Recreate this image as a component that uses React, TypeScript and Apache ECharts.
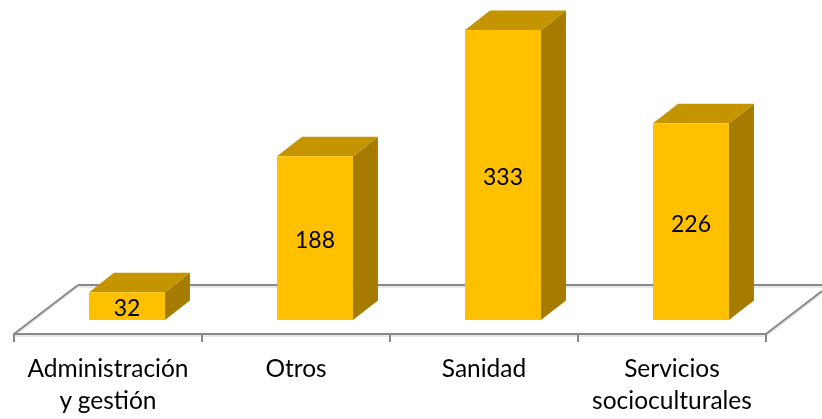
import React, { useEffect, useRef } from "react";
import * as echarts from "echarts";

const categories = ["Administración\ny gestión", "Otros", "Sanidad", "Servicios\nsocioculturales"];
const values = [32, 188, 333, 226];

const FRONT = "#FFC000";
const TOP = "#C49500";
const SIDE = "#A67C00";
const AXIS = "#888888";

export default function App() {
  const ref = useRef<HTMLDivElement>(null);
  useEffect(() => {
    const chart = echarts.init(ref.current!, undefined, { renderer: "svg" });
    const floorLine = (x1: number, y1: number, x2: number, y2: number) => ([
      { type: "line", z: 0, shape: { x1, y1: y1 + 2, x2, y2: y2 + 2 }, style: { stroke: "#e2e2e2", lineWidth: 1.5 } },
      { type: "line", z: 1, shape: { x1, y1, x2, y2 }, style: { stroke: AXIS, lineWidth: 2 } },
    ]);
    chart.setOption({
      animation: false,
      grid: { left: 14, width: 752, top: 15.2, bottom: 99 },
      graphic: [
        ...floorLine(14, 334, 78, 285),
        ...floorLine(78, 285, 822, 285),
        ...floorLine(766, 334, 822, 291),
        { type: "line", z: 0, shape: { x1: 14, y1: 336, x2: 766, y2: 336 }, style: { stroke: "#e2e2e2", lineWidth: 1.5 } },
      ],
      xAxis: {
        type: "category",
        data: categories,
        offset: 14,
        axisLine: { show: true, onZero: false, lineStyle: { color: AXIS, width: 2 } },
        axisTick: { show: true, alignWithLabel: false, length: 8, lineStyle: { color: AXIS, width: 2 } },
        axisLabel: {
          color: "#000",
          fontFamily: "Lato, Carlito, sans-serif",
          fontSize: 24.5,
          lineHeight: 32,
          margin: 17,
          interval: 0,
        },
      },
      yAxis: { type: "value", min: 0, max: 350, show: false },
      series: [
        {
          type: "custom",
          z: 5,
          data: values,
          encode: { x: 0, y: 1 },
          clip: false,
          renderItem: (params: any, api: any) => {
            const idx = api.value(0);
            const v = api.value(1);
            const [cx, yTop] = api.coord([idx, v]);
            const [, yBase] = api.coord([idx, 0]);
            const band = api.size([1, 0])[0];
            const w = band * 0.404;
            const shift = band * 0.101;
            const x0 = cx + shift - w / 2;
            const x1 = x0 + w;
            const dx = 25;
            const dy = 19.5;
            return {
              type: "group",
              children: [
                { type: "polygon", shape: { points: [[x1, yTop], [x1 + dx, yTop - dy], [x1 + dx, yBase - dy], [x1, yBase]] }, style: { fill: SIDE } },
                { type: "polygon", shape: { points: [[x0, yTop], [x0 + dx, yTop - dy], [x1 + dx, yTop - dy], [x1, yTop]] }, style: { fill: TOP } },
                { type: "rect", shape: { x: x0, y: yTop, width: w, height: yBase - yTop }, style: { fill: FRONT } },
                {
                  type: "text",
                  style: {
                    x: (x0 + x1) / 2,
                    y: (yTop + yBase) / 2 + 1,
                    text: String(v),
                    align: "center",
                    verticalAlign: "middle",
                    fill: "#000",
                    font: "23px Lato, Carlito, sans-serif",
                  },
                },
              ],
            };
          },
        },
      ],
    });
    return () => chart.dispose();
  }, []);
  return <div ref={ref} style={{ position: "fixed", left: 0, top: 0, width: 822, height: 419 }} />;
}
